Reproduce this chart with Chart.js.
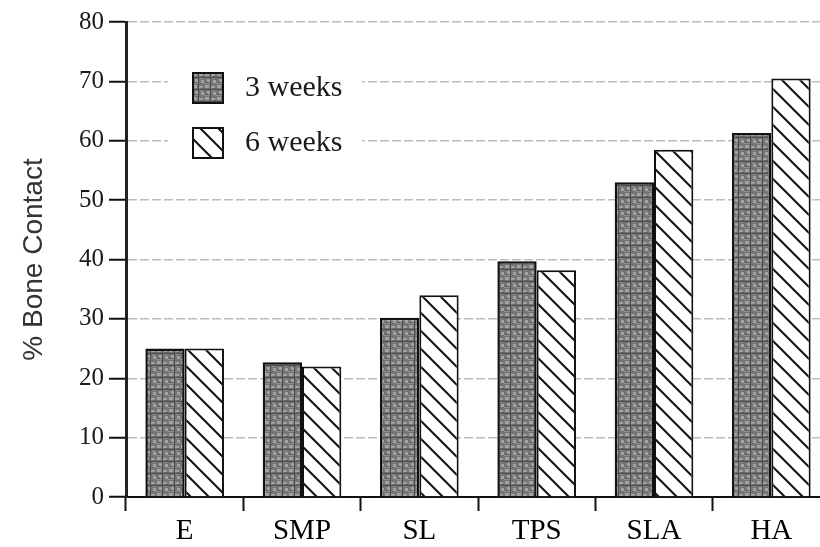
<!DOCTYPE html>
<html lang="en">
<head>
    <meta charset="UTF-8">
    <title>% Bone Contact</title>
    <style>
        body {
            margin: 0;
            background: #fff;
            overflow: hidden;
        }
        #wrap {
            width: 830px;
            height: 547px;
        }
    </style>
</head>
<body>
    <div id="wrap">
        <canvas id="chart" width="830" height="547"></canvas>
    </div>

    <script src="https://cdn.jsdelivr.net/npm/chart.js"></script>
    <script>
        const categories = ['E', 'SMP', 'SL', 'TPS', 'SLA', 'HA'];
        const seriesNames = ['3 weeks', '6 weeks'];
        const weeks3 = [25, 22.7, 30.2, 39.7, 53, 61.3];
        const weeks6 = [25, 22, 34, 38.2, 58.5, 70.5];
        const yTicks = [0, 10, 20, 30, 40, 50, 60, 70, 80];

        // mottled grey texture for the 3 week bars
        function stipple() {
            const c = document.createElement('canvas');
            c.width = 12;
            c.height = 12;
            const g = c.getContext('2d');
            g.fillStyle = '#747474';
            g.fillRect(0, 0, 12, 12);
            g.fillStyle = '#a2a2a2';
            g.fillRect(1, 1, 4, 3);
            g.fillRect(7, 2, 4, 2);
            g.fillRect(3, 7, 4, 3);
            g.fillRect(9, 8, 3, 3);
            g.fillStyle = '#4e4e4e';
            g.fillRect(6, 0, 1, 12);
            g.fillRect(0, 5, 12, 1);
            g.fillRect(2, 10, 2, 1);
            g.fillRect(10, 4, 1, 1);
            g.fillStyle = '#8e8e8e';
            g.fillRect(0, 11, 6, 1);
            g.fillRect(8, 6, 3, 1);
            return g.createPattern(c, 'repeat');
        }

        // white with black "\" hatching for the 6 week bars
        function hatch() {
            const s = 18;
            const c = document.createElement('canvas');
            c.width = s;
            c.height = s;
            const g = c.getContext('2d');
            g.fillStyle = '#fff';
            g.fillRect(0, 0, s, s);
            g.strokeStyle = '#111';
            g.lineWidth = 2;
            g.beginPath();
            g.moveTo(-2, -2); g.lineTo(s + 2, s + 2);
            g.moveTo(-2, s - 2); g.lineTo(2, s + 2);
            g.moveTo(s - 2, -2); g.lineTo(s + 2, 2);
            g.stroke();
            return g.createPattern(c, 'repeat');
        }

        const fills = [stipple(), hatch()];

        const legendInside = {
            id: 'legendInside',
            afterDraw(chart) {
                const ctx = chart.ctx;
                ctx.save();
                ctx.fillStyle = '#fff';
                ctx.fillRect(168, 62, 194, 104);
                const rows = [88, 143];
                seriesNames.forEach((name, i) => {
                    const y = rows[i];
                    ctx.fillStyle = fills[i];
                    ctx.fillRect(193, y - 15, 30, 30);
                    ctx.strokeStyle = '#111';
                    ctx.lineWidth = 2;
                    ctx.strokeRect(193, y - 15, 30, 30);
                    ctx.fillStyle = '#1a1a1a';
                    ctx.font = '30px "Liberation Serif"';
                    ctx.textBaseline = 'middle';
                    ctx.fillText(name, 245, y);
                });
                ctx.restore();
            }
        };

        new Chart(document.getElementById('chart'), {
            type: 'bar',
            data: {
                labels: categories,
                datasets: [
                    {
                        label: seriesNames[0],
                        data: weeks3,
                        backgroundColor: fills[0],
                        borderColor: '#111',
                        borderWidth: 2.5,
                        categoryPercentage: 0.67,
                        barPercentage: 1
                    },
                    {
                        label: seriesNames[1],
                        data: weeks6,
                        backgroundColor: fills[1],
                        borderColor: '#111',
                        borderWidth: 2,
                        categoryPercentage: 0.67,
                        barPercentage: 1
                    }
                ]
            },
            options: {
                responsive: false,
                animation: false,
                devicePixelRatio: 1,
                layout: { padding: { top: 22, left: 0, right: 0, bottom: 0 } },
                plugins: {
                    legend: { display: false },
                    tooltip: { enabled: false }
                },
                scales: {
                    x: {
                        afterFit: s => { s.height = 50; },
                        grid: {
                            drawOnChartArea: false,
                            tickLength: 14,
                            tickColor: '#111',
                            tickWidth: 2
                        },
                        border: { color: '#111', width: 2 },
                        ticks: {
                            padding: 3,
                            color: '#000',
                            font: { family: 'Liberation Serif', size: 29 }
                        }
                    },
                    y: {
                        min: 0,
                        max: 80,
                        afterFit: s => { s.width = 126; },
                        afterBuildTicks: s => { s.ticks = yTicks.map(v => ({ value: v })); },
                        grid: {
                            color: '#bdbdbd',
                            lineWidth: 1.5,
                            tickLength: 17,
                            tickColor: '#111',
                            tickWidth: 2
                        },
                        border: { color: '#222', width: 3, dash: [9, 3] },
                        ticks: {
                            padding: 5,
                            color: '#1a1a1a',
                            font: { family: 'Liberation Serif', size: 25 }
                        },
                        title: {
                            display: true,
                            text: '% Bone Contact',
                            color: '#333',
                            padding: { top: 17, bottom: 0 },
                            font: { family: 'Liberation Sans', size: 28 }
                        }
                    }
                }
            },
            plugins: [legendInside]
        });
    </script>
</body>
</html>
